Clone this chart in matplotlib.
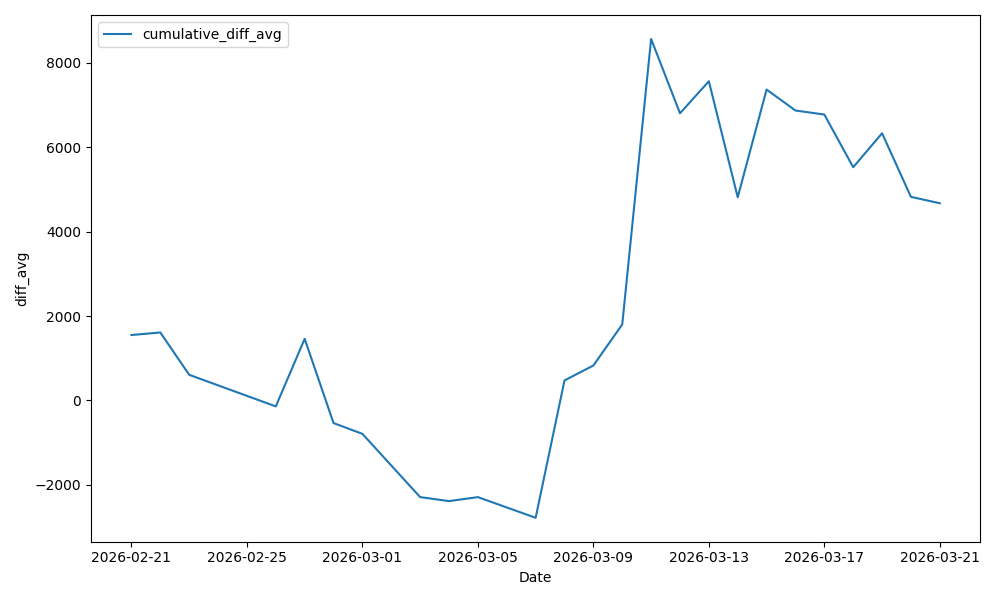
import matplotlib
matplotlib.use("Agg")
import matplotlib.pyplot as plt
import pandas as pd

# daily cumulative diff average (some days have no data)
dates = ["2026-02-21", "2026-02-22", "2026-02-23", "2026-02-26", "2026-02-27",
         "2026-02-28", "2026-03-01", "2026-03-03", "2026-03-04", "2026-03-05",
         "2026-03-07", "2026-03-08", "2026-03-09", "2026-03-10", "2026-03-11",
         "2026-03-12", "2026-03-13", "2026-03-14", "2026-03-15", "2026-03-16",
         "2026-03-17", "2026-03-18", "2026-03-19", "2026-03-20", "2026-03-21"]
cumulative_diff_avg = [1550, 1610, 608, -140, 1460,
                       -535, -790, -2288, -2382, -2288,
                       -2777, 475, 828, 1800, 8560,
                       6800, 7558, 4812, 7362, 6865,
                       6770, 5523, 6327, 4821, 4670]

df = pd.DataFrame({"Date": pd.to_datetime(dates),
                   "cumulative_diff_avg": cumulative_diff_avg})

fig, ax = plt.subplots(figsize=(10, 6), dpi=100)
ax.plot(df["Date"], df["cumulative_diff_avg"], label="cumulative_diff_avg")
ax.set_xlabel("Date")
ax.set_ylabel("diff_avg")
ax.legend(loc="upper left")

plt.tight_layout()
plt.savefig("out.png")
